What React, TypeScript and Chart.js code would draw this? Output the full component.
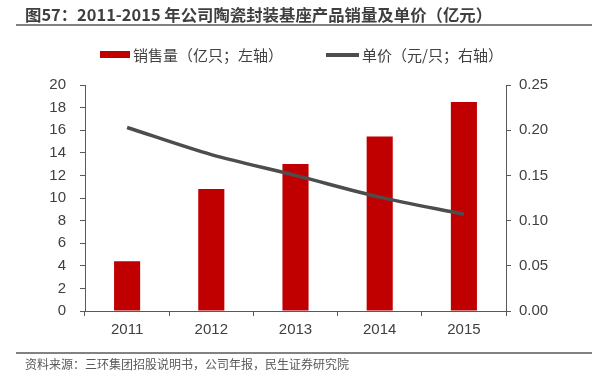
import React, { useEffect, useRef } from "react";
import { Chart, registerables } from "chart.js";

Chart.register(...registerables);

const categories = ["2011", "2012", "2013", "2014", "2015"];
const salesVolume = [4.4, 10.8, 13.0, 15.45, 18.5];
const unitPrice = [0.203, 0.173, 0.150, 0.126, 0.107];
const titleText = "图57：2011-2015 年公司陶瓷封装基座产品销量及单价（亿元）";
const sourceText = "资料来源：三环集团招股说明书，公司年报，民生证券研究院";
const barLabel = "销售量（亿只；左轴）";
const lineLabel = "单价（元/只；右轴）";

const W = 592;
const H = 385;
const FONT = '"Liberation Sans", "Noto Sans CJK SC", sans-serif';
const CJK = '"Noto Sans CJK SC", "Liberation Sans", sans-serif';

const decorPlugin = {
  id: "decor",
  afterDraw(chart: any) {
    const ctx = chart.ctx;
    ctx.save();
    // title
    ctx.fillStyle = "#3f3f3f";
    ctx.font = `bold 16.4px ${CJK}`;
    ctx.textBaseline = "middle";
    ctx.textAlign = "left";
    ctx.fillText(titleText, 25, 15);
    ctx.strokeStyle = "#595959";
    ctx.lineWidth = 1.5;
    ctx.beginPath();
    ctx.moveTo(16, 25);
    ctx.lineTo(W, 25);
    ctx.stroke();
    // source rule + text
    ctx.beginPath();
    ctx.moveTo(16, 353);
    ctx.lineTo(W, 353);
    ctx.stroke();
    ctx.fillStyle = "#595959";
    ctx.font = `12px ${CJK}`;
    ctx.fillText(sourceText, 25, 364);
    // legend
    const ds = chart.data.datasets;
    ctx.fillStyle = ds[0].backgroundColor;
    ctx.fillRect(100, 51, 30, 7);
    ctx.fillStyle = "#404040";
    ctx.font = `15px ${CJK}`;
    ctx.fillText(ds[0].label, 133, 55);
    ctx.strokeStyle = ds[1].borderColor;
    ctx.lineWidth = 4;
    ctx.beginPath();
    ctx.moveTo(326, 55);
    ctx.lineTo(359, 55);
    ctx.stroke();
    ctx.fillText(ds[1].label, 362, 55);
    ctx.restore();
  },
};

export default function App() {
  const ref = useRef<HTMLCanvasElement | null>(null);
  useEffect(() => {
    document.body.style.margin = "0";
    const canvas = ref.current;
    if (!canvas) return;
    const axisColor = "#595959";
    const tickFont = { family: FONT, size: 15 };
    const chart = new Chart(canvas, {
      type: "bar",
      data: {
        labels: categories,
        datasets: [
          {
            type: "bar",
            label: barLabel,
            data: salesVolume,
            backgroundColor: "#c00000",
            yAxisID: "y",
            categoryPercentage: 1,
            barPercentage: 0.31,
            order: 2,
          },
          {
            type: "line",
            label: lineLabel,
            data: unitPrice,
            borderColor: "#4d4d4d",
            backgroundColor: "#4d4d4d",
            borderWidth: 3.5,
            pointRadius: 0,
            tension: 0.3,
            yAxisID: "y1",
            order: 1,
          } as any,
        ],
      },
      options: {
        responsive: false,
        animation: false,
        layout: { padding: { top: 85, left: 0, right: 0, bottom: 0 } },
        plugins: {
          legend: { display: false },
          title: { display: false },
          tooltip: { enabled: false },
        },
        scales: {
          x: {
            offset: true,
            grid: {
              offset: true,
              drawOnChartArea: false,
              drawTicks: true,
              tickLength: 5,
              color: axisColor,
            },
            border: { color: axisColor, width: 1 },
            ticks: { color: "#404040", font: tickFont, padding: 5 },
            afterFit(scale: any) {
              scale.height = H - 311;
            },
          },
          y: {
            position: "left",
            min: 0,
            max: 20,
            ticks: { stepSize: 2, color: "#404040", font: tickFont, padding: 14 },
            grid: { drawOnChartArea: false, tickLength: 5, color: axisColor },
            border: { color: axisColor, width: 1 },
            afterFit(scale: any) {
              scale.width = 85;
            },
          },
          y1: {
            position: "right",
            min: 0,
            max: 0.25,
            ticks: {
              stepSize: 0.05,
              color: "#404040",
              font: tickFont,
              padding: 8,
              callback: (v: any) => Number(v).toFixed(2),
            },
            grid: { drawOnChartArea: false, tickLength: 5, color: axisColor },
            border: { color: axisColor, width: 1 },
            afterFit(scale: any) {
              scale.width = W - 506;
            },
          },
        },
      },
      plugins: [decorPlugin],
    });
    return () => chart.destroy();
  }, []);
  return (
    <canvas
      ref={ref}
      width={W}
      height={H}
      style={{ display: "block", width: W, height: H }}
    />
  );
}
